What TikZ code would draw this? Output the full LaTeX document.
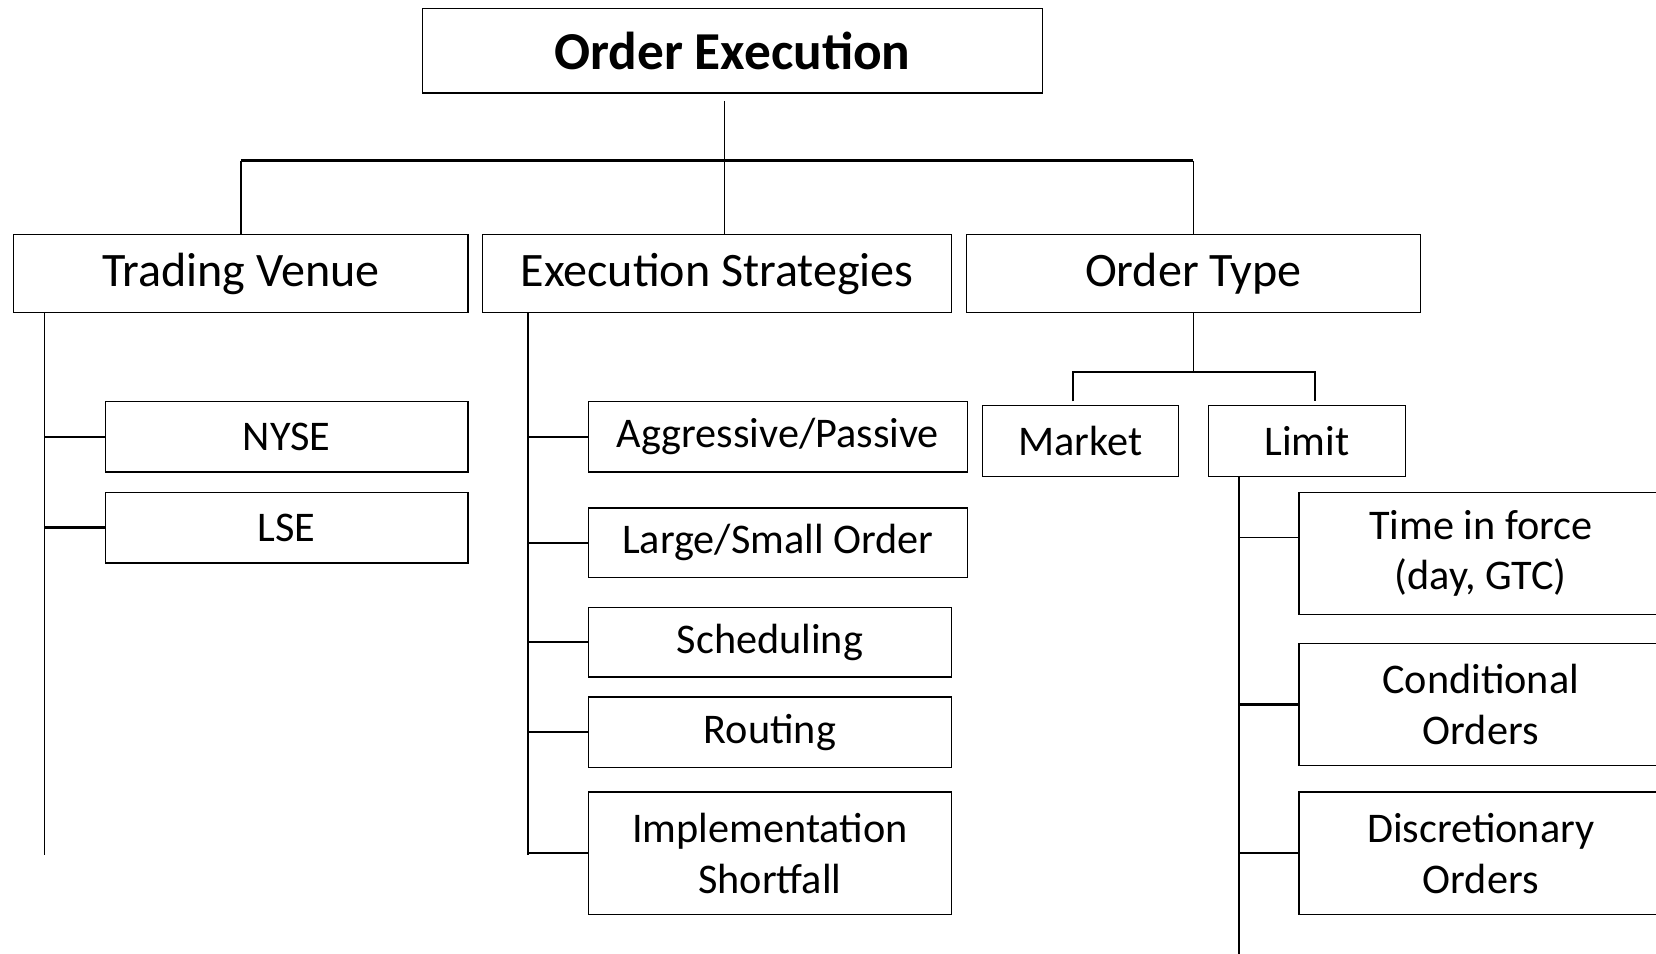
\documentclass[tikz,border=0pt]{standalone}
\usepackage{fontspec}
\setmainfont{Carlito}
\usepackage{tikz}
\usetikzlibrary{calc}

\begin{document}
\begin{tikzpicture}[x=1pt,y=-1pt,
  box/.style={draw, line width=1.2pt, inner sep=0pt, align=center,
    font=\fontsize{40}{48}\selectfont},
  headbox/.style={box, minimum height=74pt, font=\fontsize{45.5}{54}\selectfont},
  conn/.style={line width=1.5pt}]
  \clip (0,0) rectangle (1568,903);

  % Root
  \node[box, minimum width=587pt, minimum height=80pt,
    font=\bfseries\fontsize{50.5}{60}\selectfont] (root) at (693.5,48) {Order Execution};

  % First level
  \node[headbox, minimum width=430pt] (venue) at (228,259) {Trading Venue};
  \node[headbox, minimum width=444pt] (strat) at (679,259) {Execution Strategies};
  \node[headbox, minimum width=430pt] (otype) at (1130,259) {Order Type};

  \coordinate (bar) at (686,152);
  \draw[line width=1pt] (bar |- root.south) ++(0,7) -- (bar |- strat.north);
  \draw[line width=3pt] (venue.north |- bar) -- (otype.north |- bar);
  \draw[conn] (venue.north |- bar) -- (venue.north);
  \draw[conn] (otype.north |- bar) -- (otype.north);

  % Trading venue
  \node[box, minimum width=343pt, minimum height=67pt] (nyse) at (271.5,413.5) {NYSE};
  \node[box, minimum width=343pt, minimum height=67pt] (lse) at (271.5,499.5) {LSE};
  \coordinate (venuetrunk) at (42,810);
  \draw[conn] (venuetrunk |- venue.south) -- (venuetrunk);
  \foreach \n in {nyse,lse}
    \draw[line width=2pt] (venuetrunk |- \n.west) -- (\n.west);

  % Execution strategies
  \node[box, minimum width=359pt, minimum height=67pt] (aggr) at (736.5,413.5) {Aggressive/Passive};
  \node[box, minimum width=359pt, minimum height=66pt] (size) at (736.5,514) {Large/Small Order};
  \node[box, minimum width=344pt, minimum height=66pt] (sched) at (729,608) {Scheduling};
  \node[box, minimum width=344pt, minimum height=67pt] (route) at (729,693.5) {Routing};
  \node[box, minimum width=344pt, minimum height=116pt] (impl) at (729,808) {Implementation\\Shortfall};
  \coordinate (strattrunk) at (500,810);
  \draw[line width=2.2pt] (strattrunk |- strat.south) -- (strattrunk);
  \foreach \n in {aggr,size,sched,route,impl}
    \draw[line width=2pt] (strattrunk |- \n.west) -- (\n.west);

  % Order type
  \node[box, minimum width=186pt, minimum height=67pt] (market) at (1023,417.5) {Market};
  \node[box, minimum width=187pt, minimum height=67pt] (limit) at (1237.5,417.5) {Limit};
  \coordinate (split) at (1130,352);
  \coordinate (mkt) at (1016,380);
  \coordinate (lmt) at (1245,380);
  \draw[conn] (otype.south) -- (split);
  \draw[conn] (mkt) |- (split) -| (lmt);

  % Limit
  \node[box, minimum width=344pt, minimum height=116pt] (force) at (1402,524) {Time in force\\(day, GTC)};
  \node[box, minimum width=344pt, minimum height=116pt] (cond) at (1402,667) {Conditional\\Orders};
  \node[box, minimum width=344pt, minimum height=116pt] (disc) at (1402,808) {Discretionary\\Orders};
  \coordinate (limittrunk) at (1173,903);
  \draw[line width=2.2pt] (limittrunk |- limit.south) -- (limittrunk);
  \draw[conn] (limittrunk |- 0,509) -- ($(force.west)+(0,-15)$);
  \foreach \n in {cond,disc}
    \draw[line width=2pt] (limittrunk |- \n.west) -- (\n.west);
\end{tikzpicture}
\end{document}
